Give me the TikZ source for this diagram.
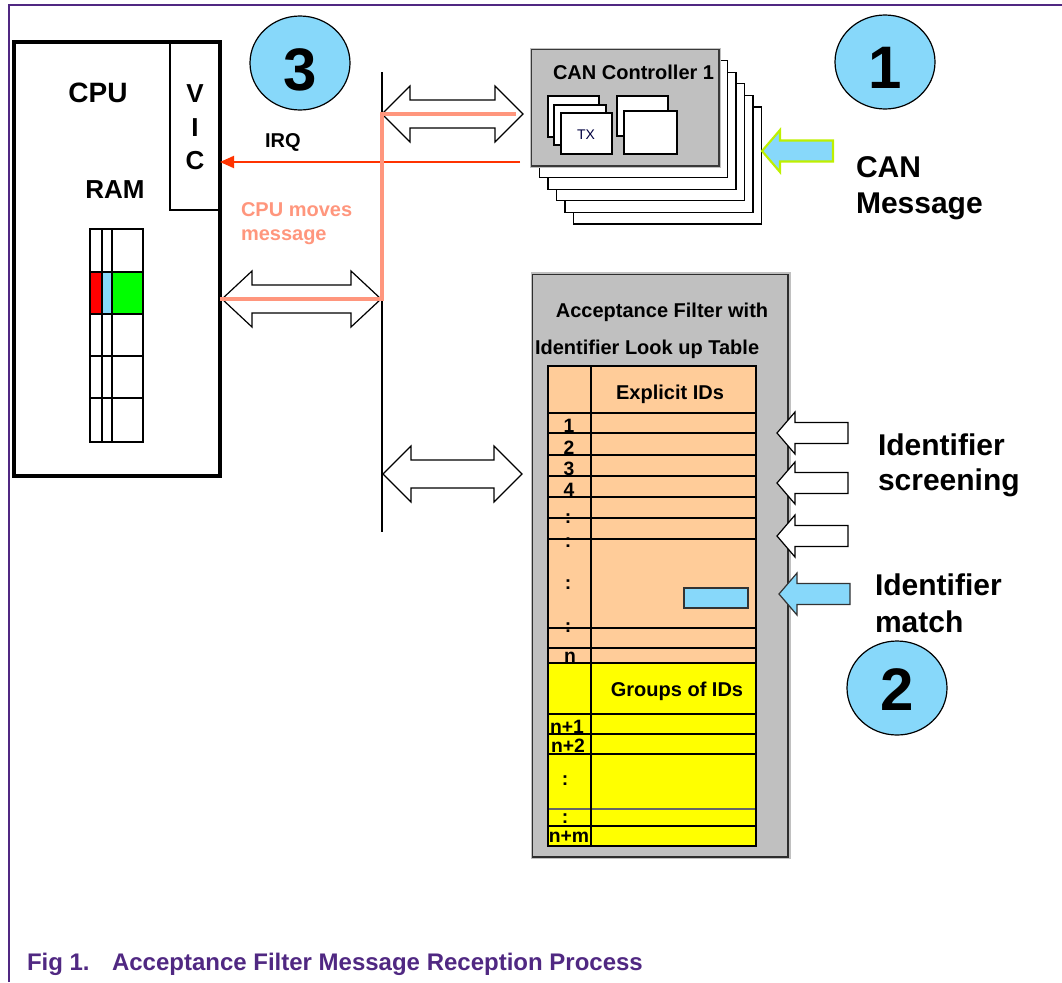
\documentclass[tikz,border=0pt]{standalone}
\usepackage{fontspec}
\setmainfont{Liberation Sans}
\usetikzlibrary{arrows.meta}

\definecolor{skyblue}{RGB}{135,216,250}
\definecolor{salmonline}{RGB}{255,150,125}
\definecolor{irqred}{RGB}{255,51,0}
\definecolor{peach}{RGB}{255,204,153}
\definecolor{panelgray}{RGB}{192,192,192}
\definecolor{nxppurple}{RGB}{80,40,130}
\definecolor{limeedge}{RGB}{190,240,0}
\definecolor{idyellow}{RGB}{255,255,0}

% double-headed hollow block arrow: #1 left tip x, #2 right tip x, #3 axis y, #4 head length
\newcommand\hollowdbl[4]{%
  \draw[hollowarrow] (#1,#3) -- ({#1+#4},{#3-28}) -- ({#1+#4},{#3-14}) --
    ({#2-#4},{#3-14}) -- ({#2-#4},{#3-28}) -- (#2,#3) -- ({#2-#4},{#3+28}) --
    ({#2-#4},{#3+14}) -- ({#1+#4},{#3+14}) -- ({#1+#4},{#3+28}) -- cycle;}
% left-pointing block arrow: #1 style, #2 tip x, #3 axis y, #4 head back x, #5 tail x
\newcommand\leftblock[5]{%
  \draw[#1] (#2,#3) -- (#4,{#3-21}) -- (#4,{#3-10.5}) -- (#5,{#3-10.5}) --
    (#5,{#3+10.5}) -- (#4,{#3+10.5}) -- (#4,{#3+21}) -- cycle;}

\tikzset{
  every node/.style={inner sep=0pt, outer sep=0pt},
  hollowarrow/.style={draw=black, fill=white, line width=0.9pt, line join=miter},
  fA/.style={font=\bfseries\fontsize{21}{24}\selectfont},
  fB/.style={font=\bfseries\fontsize{19.5}{22}\selectfont},
  fC/.style={font=\bfseries\fontsize{15}{18}\selectfont},
  fD/.style={font=\bfseries\fontsize{22.5}{26}\selectfont},
  fRow/.style={font=\bfseries\fontsize{14.5}{16}\selectfont},
  fNum/.style={font=\bfseries\fontsize{45}{50}\selectfont},
  numdisc/.style={draw=black, fill=skyblue, line width=0.9pt},
  thinbox/.style={draw=black, fill=white, line width=0.8pt},
  rowline/.style={draw=black, line width=0.9pt},
}

\begin{document}
\begin{tikzpicture}[x=0.75pt,y=-0.75pt]
\useasboundingbox (0,0) rectangle (1062,982);

% page frame
\draw[nxppurple, line width=0.9pt] (9,982) -- (9,5) -- (1062,5);

% ---------- CPU block ----------
\draw[line width=0.8pt] (170,42) rectangle (220,210);
\draw[line width=2.4pt] (14,42) rectangle (220,476);
\node[fA, anchor=base] (cpu) at (98,102) {CPU};
\node[fB, anchor=base] (vicV) at (195,102) {V};
\node[fB, anchor=base] (vicI) at (195,136) {I};
\node[fB, anchor=base] (vicC) at (195,169) {C};
\node[fB, anchor=base] (ram) at (115,198) {RAM};

% RAM buffer with the stored message row
\fill[red] (90,272) rectangle (102,314);
\fill[skyblue] (102,272) rectangle (112,314);
\fill[green] (112,272) rectangle (143,314);
\draw[line width=1.9pt] (90,229) rectangle (143,442);
\draw[line width=1.9pt] (102,229) -- (102,442) (112,229) -- (112,442);
\foreach \yy in {272,314,356,398} \draw[line width=1.9pt] (90,\yy) -- (143,\yy);

% ---------- step circles ----------
\draw[numdisc] (300,63) ellipse [x radius=50, y radius=47];
\node[fNum, anchor=base] (num3) at (300,90) {3};
\draw[numdisc] (885,62) ellipse [x radius=50, y radius=47];
\node[fNum, anchor=base] (num1) at (885,88) {1};
\draw[numdisc] (897,688) ellipse [x radius=50, y radius=47];
\node[fNum, anchor=base] (num2) at (897,710) {2};

% ---------- bus ----------
\coordinate (busTop) at (382,72);
\coordinate (busBot) at (382,532);
\draw[line width=0.9pt] (busTop) -- (busBot);

\hollowdbl{382}{523}{114}{28}
\hollowdbl{222}{381}{299}{30}
\hollowdbl{383}{522}{474}{28}

% IRQ line from the CAN controller to the VIC
\coordinate (canIrq) at (520,162);
\coordinate (vicIrq) at (220,162);
\draw[irqred, line width=1.5pt, -{Triangle[length=10.5pt,width=9pt]}] (canIrq) -- (vicIrq);
\node[fC, anchor=base west] (irq) at (265,147) {IRQ};

% message transfer path
\coordinate (cpuPort) at (220,299);
\coordinate (busJoin) at (382,299);
\coordinate (busUp) at (382,114);
\coordinate (canPort) at (516,114);
\draw[salmonline, line width=3pt, line join=miter] (cpuPort) -- (busJoin) -- (busUp) -- (canPort);
\node[fC, text=salmonline, anchor=base west] (moves1) at (241,216) {CPU moves};
\node[fC, text=salmonline, anchor=base west] (moves2) at (241,240) {message};

% ---------- CAN controller stack ----------
\foreach \i in {5,4,3,2,1}
  \draw[thinbox] ({531+8.5*\i},{49+11.6*\i}) rectangle ++(188,117);
\fill[panelgray] (530,48) rectangle (721,168);
\draw[draw=gray!45!black, line width=0.9pt] (531.5,49.5) rectangle (719,166);
\node[fC, anchor=base west] (cantitle) at (553,79) {CAN Controller 1};
\draw[thinbox] (548,96) rectangle (599,137);
\draw[thinbox] (554,105) rectangle (606,145);
\draw[thinbox] (561,113) rectangle (612,154);
\node[font=\fontsize{10.5}{12}\selectfont, text=black!75!blue, anchor=base] (tx) at (586,139) {TX};
\draw[thinbox] (617,96) rectangle (668,136);
\draw[thinbox, line width=1.5pt] (624,111) rectangle (677,154);

% incoming CAN message
\leftblock{draw=limeedge, fill=skyblue, line width=1.6pt, line join=miter}{762}{151}{780}{833}
\node[fD, anchor=base west] (canlbl) at (856,177) {CAN};
\node[fD, anchor=base west] (msglbl) at (856,213) {Message};

% ---------- acceptance filter ----------
\fill[panelgray] (531,272) rectangle (791,859);
\draw[draw=gray!35!black, line width=0.9pt] (532.5,274.5) rectangle (788,857);
\node[fC, anchor=base] (aftitle1) at (662,317) {Acceptance Filter with};
\node[fC, anchor=base west] (aftitle2) at (535,354) {Identifier Look up Table};

\fill[peach] (548,366) rectangle (756,663);
\fill[idyellow] (548,663) rectangle (756,846);
\foreach \yy in {413,433,455,476,497,518,539,628,648,663,714,734,754,826}
  \draw[rowline] (549,\yy) -- (757,\yy);
\draw[draw=black!60, line width=0.8pt] (549,809) -- (757,809);
\draw[line width=1.2pt] (548,366) rectangle (756,846);
\draw[line width=1.2pt] (591,366) -- (591,846);
\node[fC, anchor=base] (explicit) at (670,399) {Explicit IDs};
\node[fC, anchor=base] (groups) at (677,696) {Groups of IDs};
\draw[draw=black!80, fill=skyblue, line width=1pt] (684,588) rectangle (748,608);

\node[fRow, anchor=base] (r1) at (569,432) {1};
\node[fRow, anchor=base] (r2) at (569,454) {2};
\node[fRow, anchor=base] (r3) at (569,475) {3};
\node[fRow, anchor=base] (r4) at (569,496) {4};
\node[fRow, anchor=base] (rd1) at (568,523) {:};
\node[fRow, anchor=base] (rd2) at (568,547) {:};
\node[fRow, anchor=base] (rd3) at (568,589) {:};
\node[fRow, anchor=base] (rd4) at (568,632) {:};
\node[fRow, anchor=base] (rn) at (570,662) {n};
\node[fRow, anchor=base] (rn1) at (567,733) {n+1};
\node[fRow, anchor=base] (rn2) at (568,752) {n+2};
\node[fRow, anchor=base] (rd5) at (565,785) {:};
\node[fRow, anchor=base] (rd6) at (565,823) {:};
\node[fRow, anchor=base] (rnm) at (569,842) {n+m};

% identifier screening and match
\leftblock{hollowarrow}{777}{433}{795}{848}
\leftblock{hollowarrow}{777}{483}{795}{848}
\leftblock{hollowarrow}{777}{536}{795}{848}
\leftblock{draw=black!80, fill=skyblue, line width=0.9pt, line join=miter}{779}{594}{797}{850}
\node[fD, anchor=base west] (scr1) at (878,455) {Identifier};
\node[fD, anchor=base west] (scr2) at (878,490) {screening};
\node[fD, anchor=base west] (mat1) at (875,595) {Identifier};
\node[fD, anchor=base west] (mat2) at (875,632) {match};

% caption
\node[font=\bfseries\fontsize{18}{20}\selectfont, text=nxppurple, anchor=base west] (figno) at (27,970) {Fig 1.};
\node[font=\bfseries\fontsize{18}{20}\selectfont, text=nxppurple, anchor=base west] (figtitle) at (112,970) {Acceptance Filter Message Reception Process};
\end{tikzpicture}
\end{document}
